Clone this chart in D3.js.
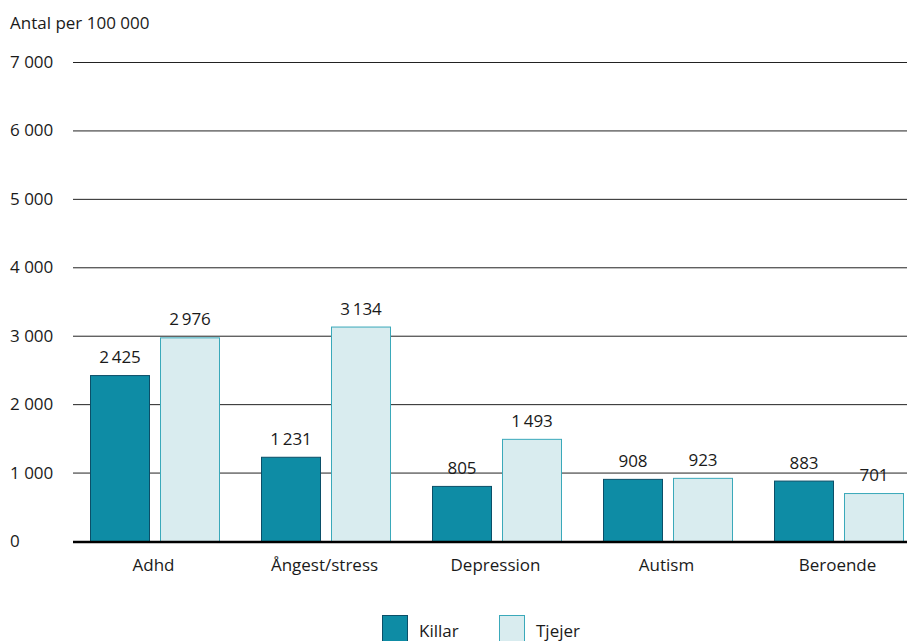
<!DOCTYPE html>
<html>
<head>
<meta charset="utf-8">
<script src="https://cdn.jsdelivr.net/npm/d3@7"></script>
<style>
  body { margin: 0; background: #fff; }
  svg { display: block; font-family: "Open Sans", "Noto Sans", sans-serif; }
</style>
</head>
<body>
<svg id="chart" width="907" height="641"></svg>
<script>
const categories = ["Adhd", "Ångest/stress", "Depression", "Autism", "Beroende"];
const seriesNames = ["Killar", "Tjejer"];
const killar = [2425, 1231, 805, 908, 883];
const tjejer = [2976, 3134, 1493, 923, 701];
const yTicks = [0, 1000, 2000, 3000, 4000, 5000, 6000, 7000];

const fillColors = { Killar: "#0e8ca5", Tjejer: "#d9ecef" };
const strokeColors = { Killar: "#0b4f68", Tjejer: "#3aa9ba" };

const FS = 17;
const fmt = v => d3.format(",")(v).replace(/,/g, "\u2009");
const fmtTick = v => d3.format(",")(v).replace(/,/g, " ");

const svg = d3.select("#chart");

const y = d3.scaleLinear().domain([0, 7000]).range([541, 62]);
const x0 = d3.scaleBand().domain(categories).range([70, 925]).paddingInner(0).paddingOuter(0);
const x1 = d3.scaleBand().domain(seriesNames).range([21, 151]).paddingInner(10 / 70).paddingOuter(0);

// Y title
svg.append("text").attr("x", 10).attr("y", 29).attr("font-size", FS).attr("fill", "#1a1a1a")
  .text("Antal per 100 000");

// Gridlines and tick labels
const grid = svg.append("g");
yTicks.forEach(t => {
  if (t > 0) {
    grid.append("line").attr("x1", 73).attr("x2", 907)
      .attr("y1", y(t) + 0.5).attr("y2", y(t) + 0.5)
      .attr("stroke", "#222").attr("stroke-width", 1);
  }
  grid.append("text").attr("x", 10).attr("y", y(t) + 6).attr("font-size", FS)
    .attr("fill", "#1a1a1a").text(fmtTick(t));
});

// Bars
const rows = categories.map((c, i) => ({ cat: c, Killar: killar[i], Tjejer: tjejer[i] }));
const groups = svg.append("g").selectAll("g").data(rows).join("g")
  .attr("transform", d => `translate(${x0(d.cat)},0)`);

groups.selectAll("rect").data(d => seriesNames.map(s => ({ s, v: d[s] }))).join("rect")
  .attr("x", d => x1(d.s) - 0.5)
  .attr("width", x1.bandwidth() - 1)
  .attr("y", d => y(d.v) + 0.5)
  .attr("height", d => y(0) - y(d.v))
  .attr("fill", d => fillColors[d.s])
  .attr("stroke", d => strokeColors[d.s])
  .attr("stroke-width", 1);

groups.selectAll("text.val").data(d => seriesNames.map(s => ({ s, v: d[s] }))).join("text")
  .attr("class", "val")
  .attr("x", d => x1(d.s) + x1.bandwidth() / 2 - 1)
  .attr("y", d => y(d.v) - 12)
  .attr("text-anchor", "middle").attr("font-size", FS).attr("fill", "#1a1a1a")
  .text(d => fmt(d.v));

// Baseline
svg.append("line").attr("x1", 73).attr("x2", 907).attr("y1", y(0) + 1).attr("y2", y(0) + 1)
  .attr("stroke", "#000").attr("stroke-width", 2.5);

// Category labels
svg.append("g").selectAll("text").data(categories).join("text")
  .attr("x", d => x0(d) + x0.bandwidth() / 2 - 2)
  .attr("y", 571)
  .attr("text-anchor", "middle").attr("font-size", FS).attr("fill", "#1a1a1a")
  .text(d => d);

// Legend
const legend = svg.append("g");
const legendX = [382, 499];
seriesNames.forEach((s, i) => {
  legend.append("rect").attr("x", legendX[i] + 0.5).attr("y", 615.5).attr("width", 25).attr("height", 27)
    .attr("fill", fillColors[s]).attr("stroke", strokeColors[s]);
  legend.append("text").attr("x", legendX[i] + 37).attr("y", 637).attr("font-size", FS)
    .attr("fill", "#1a1a1a").text(s);
});
</script>
</body>
</html>
